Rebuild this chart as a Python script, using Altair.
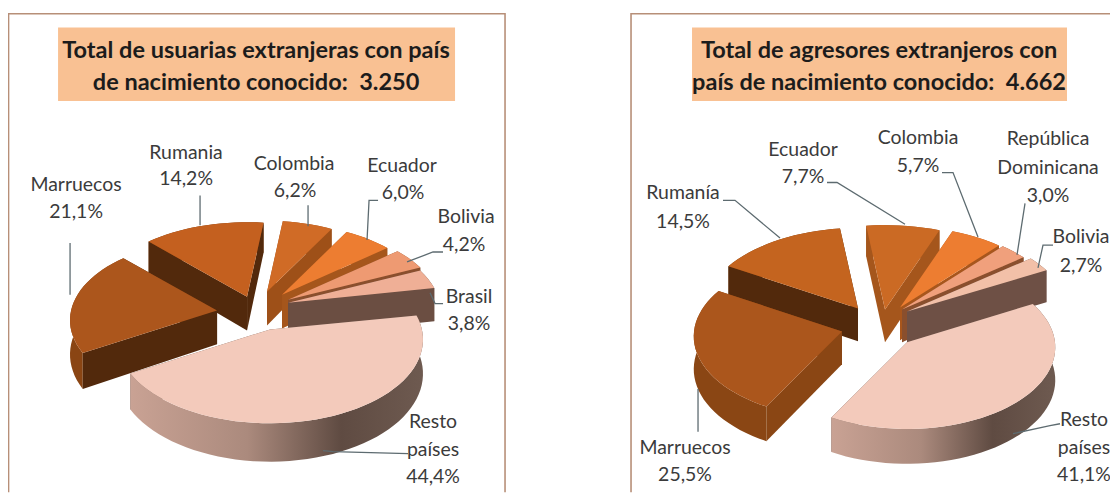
import math
import altair as alt
import pandas as pd

# ---- data ----
left_names = ["Resto países", "Marruecos", "Rumania", "Colombia", "Ecuador", "Bolivia", "Brasil"]
left_shares = [44.4, 21.1, 14.2, 6.2, 6.0, 4.2, 3.8]
right_names = ["Resto países", "Marruecos", "Rumanía", "Ecuador", "Colombia", "República Dominicana", "Bolivia"]
right_shares = [41.1, 25.5, 14.5, 7.7, 5.7, 3.0, 2.7]
left_title = ["Total de usuarias extranjeras con país", "de nacimiento conocido:\u00a0\u00a03.250"]
right_title = ["Total de agresores extranjeros con", "país de nacimiento conocido:\u00a0\u00a04.662"]

# ---- layout and style, in page pixels ----
FONT = "Lato"
X = alt.Scale(domain=[7.94, 1110], range=[0, 1110], nice=False, zero=False)
Y = alt.Scale(domain=[8, 494], range=[0, 486], nice=False, zero=False)
RESTO_RIM = alt.Gradient(gradient="linear", x1=0, x2=1, y1=0, y2=0, stops=[
    alt.GradientStop(color="#c9a294", offset=0), alt.GradientStop(color="#ab8a7d", offset=0.4),
    alt.GradientStop(color="#5f4b42", offset=0.72), alt.GradientStop(color="#6e5a50", offset=1)])

left_geo = dict(a=146, b=80, k=0.12, depth=34, start=80,
    apex=[(270, 330), (217, 311), (247, 297), (267, 292), (282, 295), (288, 300), (288, 303)],
    reach=[1.04, 1.0, 1.05, 1, 1, 1.04, 1.04],
    top=["#f3cabb", "#ac561c", "#c4601f", "#d06b26", "#ed7d31", "#ee9a72", "#efaf96"],
    wall=["#6e5a50", "#52290c", "#52290c", "#9e5018", "#a5561c", "#8a4f2d", "#6b4e42"],
    rim=[RESTO_RIM, "#8a4513", "#7a3d12", "#9e5018", "#a5561c", "#8a4f2d", "#6b4e42"])
right_geo = dict(a=148, b=82, k=0.06, depth=33, start=61,
    apex=[(907, 343), (842, 332), (858, 309), (885, 310), (900, 308), (902, 310), (907, 312)],
    reach=[1.0, 1, 1.05, 1.1, 1.06, 1.08, 1.1],
    top=["#f3cabb", "#ab561c", "#c4641f", "#cb6a24", "#ed7d31", "#f0a07c", "#f2c0a8"],
    wall=["#6e5a50", "#8a4614", "#52290c", "#a5561c", "#a8561c", "#8a4f2d", "#6e5045"],
    rim=[RESTO_RIM, "#8a4614", "#7a3d12", "#a5561c", "#a8561c", "#8a4f2d", "#6e5045"])

left_labels = [("Marruecos", 76, 185), ("21,1%", 76, 212), ("Rumania", 186, 152), ("14,2%", 186, 179),
    ("Colombia", 294, 163), ("6,2%", 295, 191), ("Ecuador", 402, 165), ("6,0%", 403, 193),
    ("Bolivia", 466, 217), ("4,2%", 464, 245), ("Brasil", 469, 297), ("3,8%", 469, 325),
    ("Resto", 433, 423), ("países", 433, 451), ("44,4%", 433, 479)]
right_labels = [("Rumanía", 683, 193), ("14,5%", 683, 222), ("Ecuador", 803, 149), ("7,7%", 803, 177),
    ("Colombia", 918, 137), ("5,7%", 918, 165), ("República", 1048, 138), ("Dominicana", 1048, 167),
    ("3,0%", 1048, 196), ("Bolivia", 1081, 237), ("2,7%", 1081, 266), ("Marruecos", 685, 449),
    ("25,5%", 685, 477), ("Resto", 1084, 421), ("países", 1084, 449), ("41,1%", 1084, 477)]
leaders = [
    [(70, 243), (70, 295)], [(200, 195), (200, 225)], [(308, 205), (308, 226)],
    [(378, 200), (369, 200), (367, 240)], [(443, 252), (433, 252), (407, 262)],
    [(443, 304), (435, 304), (430, 293)], [(408, 455), (333, 453), (323, 452)],
    [(723, 200), (735, 200), (780, 238)], [(827, 182), (837, 182), (905, 224)],
    [(942, 172), (953, 172), (978, 237)], [(1025, 203), (1017, 255)],
    [(1053, 245), (1043, 245), (1038, 268)], [(698, 390), (698, 433)],
    [(1060, 425), (1050, 427), (1013, 435)],
]


def polygon(points, fill):
    df = pd.DataFrame({"x": [p[0] for p in points], "y": [p[1] for p in points],
                       "i": list(range(len(points)))})
    return alt.Chart(df).mark_line(fill=fill, stroke=None, strokeWidth=0, interpolate="linear-closed").encode(
        x=alt.X("x:Q", scale=X, axis=None), y=alt.Y("y:Q", scale=Y, axis=None), order="i:Q")


def polyline(points, color, width):
    df = pd.DataFrame({"x": [p[0] for p in points], "y": [p[1] for p in points],
                       "i": list(range(len(points)))})
    return alt.Chart(df).mark_line(color=color, strokeWidth=width).encode(
        x=alt.X("x:Q", scale=X, axis=None), y=alt.Y("y:Q", scale=Y, axis=None), order="i:Q")


def pie_layers(shares, g):
    a, b, k, depth = g["a"], g["b"], g["k"], g["depth"]
    spans = []
    cur = g["start"]
    for s in shares:
        spans.append((cur, cur + s * 3.6))
        cur += s * 3.6

    def rim_pt(ax, ay, deg, reach, low=False):
        t = math.radians(deg)
        ex, ey = math.sin(t), math.cos(t)
        p = 1 / (1 + k * ey)
        return (ax + a * reach * ex * p, ay - b * reach * ey * p + (depth * p if low else 0))

    order = sorted(range(len(shares)), key=lambda i: -math.cos(math.radians(sum(spans[i]) / 2)))
    layers = []
    for i in order:
        s, e = spans[i]
        ax, ay = g["apex"][i]
        r = g["reach"][i]
        steps = max(4, int((e - s) / 3))
        degs = [s + (e - s) * n / steps for n in range(steps + 1)]
        top_arc = [rim_pt(ax, ay, d, r) for d in degs]
        low_arc = [rim_pt(ax, ay, d, r, True) for d in degs]
        low_apex = (ax, ay + depth)
        wall_s = polygon([(ax, ay), top_arc[0], low_arc[0], low_apex], g["wall"][i])
        wall_e = polygon([(ax, ay), top_arc[-1], low_arc[-1], low_apex], g["wall"][i])
        rim = polygon(top_arc + low_arc[::-1], g["rim"][i])
        top = polygon([(ax, ay)] + top_arc, g["top"][i])
        front_s = math.cos(math.radians(s - 90)) < 0
        front_e = math.cos(math.radians(e + 90)) < 0
        back = [w for w, f in ((wall_s, front_s), (wall_e, front_e)) if not f]
        front = [w for w, f in ((wall_s, front_s), (wall_e, front_e)) if f]
        layers += back + [rim] + front + [top]
    return layers


def text_layer(rows, size, weight, color):
    df = pd.DataFrame(rows, columns=["t", "x", "y"])
    return alt.Chart(df).mark_text(font=FONT, fontSize=size, fontWeight=weight, color=color,
                                   align="center", baseline="middle").encode(
        x=alt.X("x:Q", scale=X, axis=None), y=alt.Y("y:Q", scale=Y, axis=None), text="t:N")


def box(x0, x1, y0, y1):
    return polygon([(x0, y0), (x1, y0), (x1, y1), (x0, y1)], "#f9c193")


layers = [
    polyline([(8.5, 494), (8.5, 12), (505, 12), (505, 494)], "#b78f78", 1.6),
    polyline([(631, 494), (631, 12), (1110, 12)], "#b78f78", 1.6),
    box(58, 455, 26, 100), box(692, 1067, 26, 100),
]
layers += pie_layers(left_shares, left_geo) + pie_layers(right_shares, right_geo)
layers += [polyline(l, "#5d6b70", 1.3) for l in leaders]
layers += [
    text_layer(left_labels + right_labels, 19.6, "normal", "#3b3b3b"),
    text_layer([(left_title[0], 256, 50), (left_title[1], 256, 82),
                (right_title[0], 879, 50), (right_title[1], 879, 82)], 23.7, "bold", "#1c1c1c"),
]

chart = alt.layer(*layers).properties(
    width=1110, height=486, padding=0,
    autosize=alt.AutoSizeParams(type="none"),
).configure_view(stroke=None)

chart.save("out.html", embed_options={"renderer": "svg", "actions": False})
